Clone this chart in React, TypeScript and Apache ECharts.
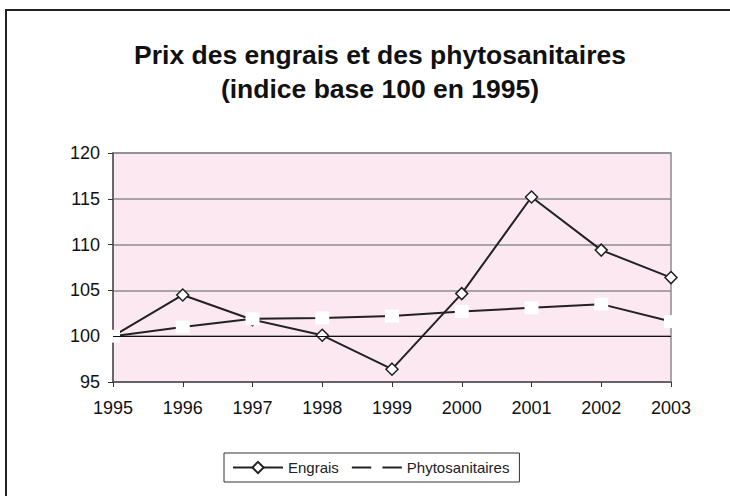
import React, { useEffect, useRef } from "react";
import * as echarts from "echarts";

const years = ["1995", "1996", "1997", "1998", "1999", "2000", "2001", "2002", "2003"];
const engrais = [100, 104.5, 101.8, 100.1, 96.4, 104.65, 115.2, 109.4, 106.4];
const phyto = [100, 101.0, 101.9, 102.0, 102.2, 102.7, 103.1, 103.5, 101.6];
const titleLines = ["Prix des engrais et des phytosanitaires", "(indice base 100 en 1995)"];

export default function App() {
  const ref = useRef<HTMLDivElement>(null);
  useEffect(() => {
    if (!ref.current) return;
    const chart = echarts.init(ref.current, null, { renderer: "svg" });
    const font = "Liberation Sans";
    chart.setOption({
      animation: false,
      backgroundColor: "#ffffff",
      textStyle: { fontFamily: font },
      graphic: [
        {
          type: "rect",
          shape: { x: 6, y: 10, width: 740, height: 500 },
          style: { fill: "none", stroke: "#222", lineWidth: 2 },
          z: 100,
        },
        ...titleLines.map((t, i) => ({
          type: "text",
          x: 380,
          y: 55 + i * 34,
          style: {
            text: t,
            fontFamily: font,
            fontSize: 26.5,
            fontWeight: "bold",
            fill: "#111",
            textAlign: "center",
            textVerticalAlign: "middle",
          },
        })),
      ],
      legend: {
        left: 224,
        top: 453,
        itemWidth: 50,
        itemHeight: 14,
        itemGap: 12,
        padding: [7, 10, 7, 8],
        borderColor: "#333",
        borderWidth: 1,
        borderRadius: 0,
        textStyle: { fontFamily: font, fontSize: 15, color: "#222" },
        data: ["Engrais", "Phytosanitaires"],
      },
      grid: {
        left: 113,
        top: 153,
        right: 59,
        bottom: 114,
        show: true,
        backgroundColor: "#fce8f1",
        borderColor: "#8c8c8c",
        borderWidth: 1.5,
      },
      xAxis: {
        type: "category",
        data: years,
        boundaryGap: false,
        axisLine: { show: true, lineStyle: { color: "#555", width: 1.5 } },
        axisTick: { show: true, length: 5, inside: false, lineStyle: { color: "#333" } },
        axisLabel: { fontFamily: font, fontSize: 18, color: "#111", margin: 17 },
        splitLine: { show: false },
      },
      yAxis: {
        type: "value",
        min: 95,
        max: 120,
        interval: 5,
        axisLine: { show: true, lineStyle: { color: "#555", width: 1.5 } },
        axisTick: { show: true, length: 5, lineStyle: { color: "#333" } },
        axisLabel: { fontFamily: font, fontSize: 18, color: "#111", margin: 13 },
        splitLine: { show: true, lineStyle: { color: "#8c8c8c", width: 1.5 } },
      },
      series: [
        {
          name: "Engrais",
          type: "line",
          data: engrais,
          symbol: "diamond",
          symbolSize: 12,
          lineStyle: { color: "#222", width: 2 },
          itemStyle: { color: "#fff", borderColor: "#222", borderWidth: 1.5 },
          markLine: {
            silent: true,
            symbol: "none",
            label: { show: false },
            lineStyle: { color: "#111", width: 1, type: "solid" },
            data: [{ yAxis: 100 }],
          },
        },
        {
          name: "Phytosanitaires",
          type: "line",
          data: phyto,
          symbol: "rect",
          symbolSize: [14, 13],
          lineStyle: { color: "#222", width: 2 },
          itemStyle: { color: "#fff", borderWidth: 0, opacity: 1 },
        },
      ],
    });
    return () => chart.dispose();
  }, []);
  return <div ref={ref} style={{ width: 730, height: 496, position: "absolute", left: 0, top: 0 }} />;
}
